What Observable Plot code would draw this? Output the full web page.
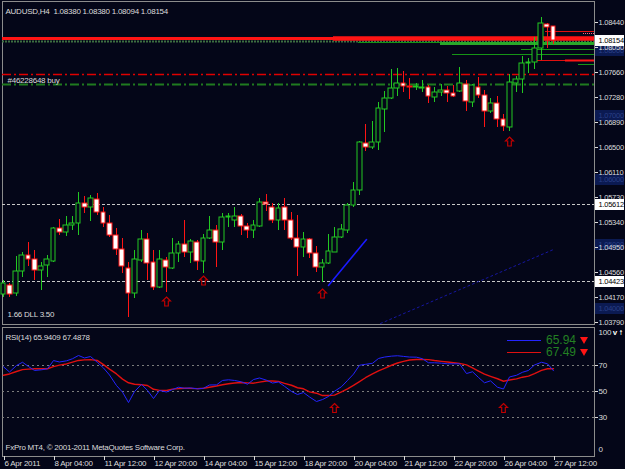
<!DOCTYPE html>
<html><head><meta charset="utf-8">
<script src="https://cdn.jsdelivr.net/npm/d3@7"></script>
<script src="https://cdn.jsdelivr.net/npm/@observablehq/plot@0.6"></script>
<style>
html,body{margin:0;padding:0;background:#040618;}
#wrap{position:relative;width:625px;height:469px;background:#040618;overflow:hidden;}
#main,#rsi{position:absolute;left:0;width:625px;}
#main{top:0}
#rsi{top:326px}
svg{display:block}
.leg{position:absolute;}
.val{position:absolute;font:12px 'Liberation Sans',Arial,sans-serif;line-height:12px;color:#238023;}
.tri{position:absolute;width:0;height:0;border-left:4px solid transparent;border-right:4px solid transparent;border-top:7px solid #ff1414;}
</style></head>
<body><div id="wrap"><div id="main"></div><div id="rsi"></div></div>
<script>
// ---------- data (AUDUSD H4, 6 Apr 2011 20:00 .. 27 Apr 2011 12:00) ----------
const symbolName = "AUDUSD,H4";
const open = [
1.04224,1.04364,1.04240,1.04581,1.04829,1.04767,1.04596,1.04674,1.04736,1.05247,
1.05185,1.05294,1.05325,1.05635,1.05573,1.05697,1.05495,1.05325,1.05139,1.04922,
1.04627,1.04240,1.04751,1.05077,1.04720,1.04333,1.04751,1.04627,1.04860,1.04999,
1.04875,1.05030,1.04736,1.05092,1.05216,1.05030,1.05418,1.05371,1.05433,1.05278,
1.05216,1.05278,1.05650,1.05573,1.05371,1.05573,1.05371,1.05092,1.04953,1.05077,
1.04860,1.04643,1.04705,1.04875,1.05108,1.05216,1.05604,1.05836,1.06565,1.06503,
1.06580,1.07091,1.07262,1.07417,1.07495,1.07448,1.07433,1.07417,1.07433,1.07278,
1.07355,1.07386,1.07340,1.07371,1.07479,1.07200,1.07433,1.07309,1.07061,1.07185,
1.06937,1.06813,1.07495,1.07557,1.07805,1.07820,1.08037,1.08409,1.08380];
const high = [
1.04441,1.04395,1.04813,1.04875,1.05030,1.04906,1.04720,1.04829,1.05263,1.05387,
1.05433,1.05433,1.05805,1.05743,1.05759,1.05790,1.05573,1.05449,1.05247,1.05092,
1.04720,1.04906,1.05216,1.05170,1.04906,1.04906,1.04798,1.05092,1.05046,1.05371,
1.05077,1.05061,1.05154,1.05433,1.05294,1.05480,1.05480,1.05573,1.05464,1.05325,
1.05371,1.05712,1.05774,1.05635,1.05635,1.05712,1.05495,1.05449,1.05185,1.05092,
1.04968,1.04767,1.05154,1.05263,1.05309,1.05635,1.05960,1.06596,1.06859,1.06906,
1.07200,1.07371,1.07712,1.07727,1.07681,1.07572,1.07495,1.07541,1.07464,1.07433,
1.07479,1.07448,1.07464,1.07743,1.07541,1.07479,1.07588,1.07386,1.07262,1.07293,
1.07014,1.07634,1.07603,1.07913,1.07882,1.08208,1.08518,1.08425,1.08380];
const low = [
1.04178,1.04178,1.04193,1.04488,1.04658,1.04441,1.04286,1.04488,1.04720,1.05139,
1.05123,1.05216,1.05139,1.05480,1.05356,1.05449,1.05263,1.05108,1.04829,1.04550,
1.03868,1.04162,1.04720,1.04441,1.04286,1.04317,1.04255,1.04612,1.04720,1.04798,
1.04705,1.04596,1.04550,1.05077,1.04643,1.04906,1.05263,1.05263,1.05139,1.05092,
1.05092,1.05263,1.05511,1.05325,1.05216,1.05216,1.05061,1.04503,1.04798,1.04782,
1.04565,1.04410,1.04689,1.04875,1.05092,1.05170,1.05573,1.05759,1.06441,1.06472,
1.06456,1.06735,1.07247,1.07293,1.07355,1.07247,1.07386,1.07355,1.07185,1.07200,
1.07293,1.07200,1.07278,1.07355,1.07061,1.07123,1.07262,1.06813,1.07030,1.06813,
1.06751,1.06751,1.07355,1.07340,1.07650,1.07712,1.07851,1.08037,1.08094];
const close = [
1.04395,1.04224,1.04581,1.04829,1.04767,1.04596,1.04658,1.04767,1.05247,1.05185,
1.05294,1.05325,1.05635,1.05573,1.05712,1.05495,1.05325,1.05139,1.04922,1.04658,
1.04240,1.04767,1.05077,1.04705,1.04333,1.04767,1.04643,1.04860,1.04999,1.04875,
1.05046,1.04736,1.05092,1.05216,1.05030,1.05418,1.05433,1.05433,1.05278,1.05216,
1.05294,1.05650,1.05619,1.05371,1.05557,1.05371,1.05092,1.04953,1.05077,1.04860,
1.04643,1.04705,1.04891,1.05108,1.05232,1.05604,1.05836,1.06580,1.06503,1.06580,
1.07107,1.07262,1.07417,1.07495,1.07448,1.07433,1.07448,1.07433,1.07293,1.07355,
1.07386,1.07340,1.07293,1.07495,1.07216,1.07464,1.07309,1.07061,1.07185,1.06937,
1.06828,1.07510,1.07557,1.07805,1.07820,1.08037,1.08425,1.08363,1.08154];

const rsi = [69.0,65.0,70.0,72.5,69.2,66.2,66.7,67.5,73.8,72.7,
73.6,75.2,77.7,75.8,76.9,72.3,68.1,62.7,54.6,49.5,
41.5,50.0,55.5,50.8,44.6,50.8,49.6,51.5,53.3,52.5,
52.8,52.0,52.5,55.0,55.1,58.5,59.0,58.5,57.4,55.6,
59.2,60.4,58.7,56.5,57.3,54.0,50.0,47.7,49.2,45.8,
42.3,43.8,46.2,50.2,53.7,58.5,63.4,70.2,70.9,71.7,
75.4,76.5,77.2,77.5,77.0,76.5,76.4,75.2,72.1,72.1,
71.8,71.3,71.3,71.3,63.8,65.2,60.8,56.7,58.2,53.3,
51.9,61.2,62.5,64.8,66.2,70.4,72.5,71.3,65.9409];
const signal = [62.5,63.5,65.4,66.8,67.2,67.5,67.5,67.5,69.1,70.3,
71.2,72.6,73.9,74.3,74.5,73.8,70.7,67.2,63.5,59.5,
56.7,55.6,55.2,54.6,51.7,50.9,50.8,51.8,52.2,52.5,
52.4,52.2,52.5,53.3,54.2,55.2,56.0,56.5,56.9,56.6,
56.4,57.2,58.1,58.1,57.8,56.3,54.8,52.9,52.1,49.7,
48.7,46.9,46.9,47.2,49.7,52.1,54.7,57.6,60.6,63.5,
65.9,67.8,70.2,71.9,73.2,74.2,74.6,74.6,74.5,73.8,
73.2,72.7,72.1,71.6,70.5,68.1,65.7,63.4,61.7,59.8,
57.9,58.8,59.7,61.0,61.8,63.8,66.3,67.5,67.4878];

const priceTicks = [1.08440,1.08050,1.07660,1.07280,1.06890,1.06500,1.06110,1.05730,1.05340,1.04950,1.04560,1.04170,1.03790];
const roundLevels = [1.08,1.07,1.06,1.05,1.04];
const markedLevels = [1.05612,1.04423];
const orderOpen = 1.07634, orderTP = 1.07479, orderLabel = "#46228648 buy";
const rightEdge = 94.56;           // right border of the chart window, in bars
const stopPrice = 1.08195, stopBandStart = 52.8;
const greenBandPrice = 1.08114, greenBandStart = 69.9;
const greyGreenPrice = 1.08146;
const greenThinPrice = [1.08130,1.07944,1.08022,1.07789];
const greenThinStart = [56.8,71.8,82.9,92.0];
const redThinPrice = [1.08301,1.07851];
const redThinStart = [86.7,85.0];
const redShortPrice = [1.07851], redShortStart = [89.9];
const pinkPrice = [1.08270], pinkStart = [92.8];
const trendLine = [{i:52,p:1.04364},{i:58.1,p:1.05077}];
const channelLine = [{i:60.3,p:1.03775},{i:88,p:1.04922}];
const arrowIdx = [26,32,51,81];
const arrowPrice = [1.04108,1.04441,1.04247,1.06588];
const rsiArrowIdx = [53,80];
const rsiArrowValue = [37.3,37.3];
const rsiLevels = [70,50,30];
const timeIdx = [0,8,16,24,32,40,48,56,64,72,80,88];
const timeLabels = ["6 Apr 2011","8 Apr 04:00","11 Apr 12:00","12 Apr 20:00","14 Apr 04:00","15 Apr 12:00","18 Apr 20:00","20 Apr 04:00","21 Apr 12:00","22 Apr 20:00","26 Apr 04:00","27 Apr 12:00"];
const accountInfo = "1.66 DLL 3.50";
const copyright = "FxPro MT4, \u00a9 2001-2011 MetaQuotes Software Corp.";

// ---------- styles ----------
const GREEN="#22c822", RED="#ff1414", BG="#040618", TXT="#dcdcdc", GRID="#8c8c8c";
const FONT="'Liberation Sans', Arial, Helvetica, sans-serif";
const W = 0.37;
const last = open.length-1;
const candles = open.map((o,i)=>({i,o,h:high[i],l:low[i],c:close[i]}));
const bull = candles.filter(d=>d.c>=d.o);
const bear = candles.filter(d=>d.c<d.o);
const title = symbolName + "\u00a0\u00a0" + [open[last],high[last],low[last],close[last]].map(d=>d.toFixed(5)).join(" ");
const rsiTitle = `RSI(14) ${rsi[last].toFixed(4)} ${signal[last].toFixed(4)}`;

const arrowUp = {draw(ctx){ctx.moveTo(0,-4.5);ctx.lineTo(4,-0.5);ctx.lineTo(1.8,-0.5);ctx.lineTo(1.8,4.5);ctx.lineTo(-1.8,4.5);ctx.lineTo(-1.8,-0.5);ctx.lineTo(-4,-0.5);ctx.closePath();}};
const box = {draw(ctx){ctx.rect(-14.5,-5.5,29,11);}};
const style = {background:BG, color:TXT, fontFamily:FONT, fontSize:"8px", letterSpacing:"-0.25px"};
const xOpts = {type:"linear", domain:[0,88], range:[3,553], round:true, axis:null};

const seg = (prices, starts) => prices.map((p,k)=>({p, s:starts[k], e:rightEdge}));

const main = Plot.plot({
  width:625, height:326, marginLeft:2, marginRight:31, marginTop:1, marginBottom:2,
  style, x:xOpts,
  y:{domain:[1.0379,1.0844], range:[322,22], round:true, axis:null},
  marks:[
    Plot.frame({stroke:GRID}),
    Plot.ruleY(markedLevels, {stroke:"#c8c8c8", strokeDasharray:"3,2"}),
    Plot.ruleY([orderOpen], {stroke:"#e00000", strokeWidth:1.5, strokeDasharray:"9,3,2,3"}),
    Plot.ruleY([orderTP], {stroke:"#1f7a1f", strokeWidth:2, strokeDasharray:"9,3,2,3"}),
    Plot.ruleY([greyGreenPrice], {stroke:"#3d6e40", strokeWidth:2, strokeDasharray:"2,1"}),
    Plot.ruleY(seg(greenThinPrice, greenThinStart), {y:"p", x1:"s", x2:"e", stroke:"#169416", strokeWidth:1}),
    Plot.ruleY(seg([greenBandPrice], [greenBandStart]), {y:"p", x1:"s", x2:"e", stroke:"#2aa82a", strokeWidth:3}),
    Plot.ruleY([stopPrice], {stroke:RED, strokeWidth:3}),
    Plot.ruleY(seg([stopPrice], [stopBandStart]), {y:"p", x1:"s", x2:"e", stroke:RED, strokeWidth:4.5}),
    Plot.ruleY(seg(redThinPrice, redThinStart), {y:"p", x1:"s", x2:"e", stroke:"#e01010", strokeWidth:1}),
    Plot.ruleY(seg(redShortPrice, redShortStart), {y:"p", x1:"s", x2:"e", stroke:RED, strokeWidth:2}),
    Plot.ruleY(seg(pinkPrice, pinkStart), {y:"p", x1:"s", x2:"e", stroke:"#ff6080", strokeWidth:1, strokeDasharray:"1,1"}),
    Plot.line(trendLine, {x:"i", y:"p", stroke:"#1a1aff", strokeWidth:1.6}),
    Plot.line(channelLine, {x:"i", y:"p", stroke:"#1616a0", strokeWidth:1, strokeDasharray:"2,3"}),
    Plot.ruleX(bull, {x:"i", y1:"l", y2:"h", stroke:GREEN}),
    Plot.ruleX(bear, {x:"i", y1:"l", y2:"h", stroke:RED}),
    Plot.rect(bull, {x1:d=>d.i-W, x2:d=>d.i+W, y1:"o", y2:"c", fill:BG, stroke:GREEN}),
    Plot.rect(bear, {x1:d=>d.i-W, x2:d=>d.i+W, y1:"o", y2:"c", fill:"#ffffff", stroke:RED}),
    Plot.dot(arrowIdx.map((i,k)=>({i, p:arrowPrice[k]})), {x:"i", y:"p", symbol:arrowUp, r:4, stroke:"#c00000", fill:"none", strokeWidth:1.2}),
    Plot.text([title], {frameAnchor:"top-left", dx:3, dy:6.5, textAnchor:"start", fill:TXT}),
    Plot.text([{p:orderOpen, t:orderLabel}], {y:"p", text:"t", frameAnchor:"left", dx:5, dy:6, textAnchor:"start", fill:TXT}),
    Plot.text([accountInfo], {frameAnchor:"bottom-left", dx:5, dy:-8, textAnchor:"start", fill:TXT}),
    Plot.dot(roundLevels, {y:d=>d, frameAnchor:"right", dx:15, symbol:box, fill:"#0b1a52", stroke:"none"}),
    Plot.text(roundLevels, {y:d=>d, text:d=>d.toFixed(5), frameAnchor:"right", dx:4, textAnchor:"start", fill:"#2a3f86", fontSize:7.5}),
    Plot.axisY(priceTicks, {anchor:"right", tickSize:3, tickPadding:1, tickFormat:d=>d.toFixed(5), color:TXT, fontSize:7.5}),
    Plot.dot([close[last], ...markedLevels], {y:d=>d, frameAnchor:"right", dx:15, symbol:box, fill:"#ffffff", stroke:"none"}),
    Plot.text([close[last], ...markedLevels], {y:d=>d, text:d=>d.toFixed(5), frameAnchor:"right", dx:4, textAnchor:"start", fill:"#000", fontSize:7.5})
  ]
});
document.getElementById("main").appendChild(main);

const rsiPlot = Plot.plot({
  width:625, height:143, marginLeft:2, marginRight:31, marginTop:1, marginBottom:13,
  style, x:xOpts,
  y:{domain:[0,100], range:[130,0], axis:null},
  marks:[
    Plot.frame({stroke:GRID}),
    Plot.ruleY(rsiLevels, {stroke:"#7c7c7c", strokeDasharray:"2,3"}),
    Plot.line(signal, {x:(d,i)=>i, y:d=>d, stroke:"#e01010", strokeWidth:1.4}),
    Plot.line(rsi, {x:(d,i)=>i, y:d=>d, stroke:"#2424ff", strokeWidth:1}),
    Plot.dot(rsiArrowIdx.map((i,k)=>({i, v:rsiArrowValue[k]})), {x:"i", y:"v", symbol:arrowUp, r:4, stroke:"#c00000", fill:"none", strokeWidth:1.2}),
    Plot.axisY(rsiLevels, {anchor:"right", tickSize:3, tickPadding:1, color:TXT}),
    Plot.axisY([100], {anchor:"right", tickSize:0, tickPadding:4, dy:6, color:TXT}),
    Plot.axisY([0], {anchor:"right", tickSize:0, tickPadding:4, dy:-7, color:TXT}),
    Plot.axisX(timeIdx, {anchor:"bottom", tickSize:4, tickPadding:0, textAnchor:"start", dx:1, tickFormat:d=>timeLabels[timeIdx.indexOf(d)], label:null, color:TXT}),
    Plot.text([rsiTitle], {frameAnchor:"top-left", dx:3, dy:7, textAnchor:"start", fill:TXT}),
    Plot.text([copyright], {frameAnchor:"bottom-left", dx:3, dy:-7, textAnchor:"start", fill:TXT})
  ]
});
document.getElementById("rsi").appendChild(rsiPlot);

// legend (top-right of the RSI window)
const wrap = document.getElementById("wrap");
[[rsi[last], "#2424ff", 340], [signal[last], "#e01010", 352]].forEach(([v, col, y]) => {
  const ln = document.createElement("div"); ln.className = "leg";
  ln.style.cssText = `left:507px;top:${y}px;width:34px;border-top:1.5px solid ${col};`;
  const tx = document.createElement("div"); tx.className = "val";
  tx.style.left = "546px"; tx.style.top = (y-6)+"px"; tx.textContent = v.toFixed(2);
  const tr = document.createElement("div"); tr.className = "tri";
  tr.style.left = "580px"; tr.style.top = (y-3)+"px";
  wrap.append(ln, tx, tr);
});
</script></body></html>
